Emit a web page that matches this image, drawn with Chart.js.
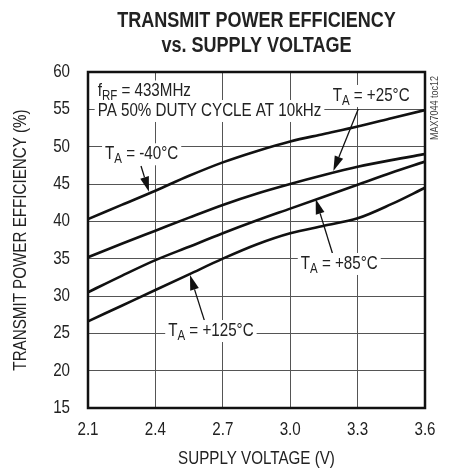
<!DOCTYPE html>
<html><head><meta charset="utf-8">
<script src="https://cdn.jsdelivr.net/npm/chart.js@4.4.1/dist/chart.umd.min.js"></script>
<style>html,body{margin:0;padding:0;background:#fff;}#wrap{width:450px;height:473px;position:relative;}</style>
</head><body><div id="wrap"><canvas id="c" width="450" height="473"></canvas></div>
<script>
// ---- data ----
const voltage = [2.1, 2.25, 2.4, 2.55, 2.7, 2.85, 3.0, 3.15, 3.3, 3.45, 3.6];
const effM40  = [40.3, 42.2, 44.1, 46.1, 47.9, 49.4, 50.7, 51.7, 52.7, 53.8, 54.9];
const effP25  = [35.2, 37.0, 38.75, 40.5, 42.2, 43.7, 45.0, 46.2, 47.3, 48.2, 49.0];
const effP85  = [30.5, 32.7, 34.8, 36.6, 38.4, 40.1, 41.7, 43.3, 44.9, 46.5, 48.0];
const effP125 = [26.6, 28.7, 30.8, 32.9, 35.0, 36.9, 38.4, 39.4, 40.4, 42.3, 44.5];
const xTicks = [2.1, 2.4, 2.7, 3.0, 3.3, 3.6];
const yTicks = [15, 20, 25, 30, 35, 40, 45, 50, 55, 60];
const titleLines = ['TRANSMIT POWER EFFICIENCY', 'vs. SUPPLY VOLTAGE'];
const xTitle = 'SUPPLY VOLTAGE (V)';
const yTitle = 'TRANSMIT POWER EFFICIENCY (%)';
const sideNote = 'MAX7044 toc12';
// annotation labels: [text, isSubscript] parts, anchored (left, baseline) in data units
const notes = [
  {parts: [['f', 0], ['RF', 1], [' = 433MHz', 0]], x: 2.143, y: 56.72},
  {parts: [['PA 50% DUTY CYCLE AT 10kHz', 0]], x: 2.143, y: 54.11},
  {parts: [['T', 0], ['A', 1], [' = -40°C', 0]], x: 2.176, y: 48.31},
  {parts: [['T', 0], ['A', 1], [' = +25°C', 0]], x: 3.189, y: 56.12},
  {parts: [['T', 0], ['A', 1], [' = +85°C', 0]], x: 3.047, y: 33.62},
  {parts: [['T', 0], ['A', 1], [' = +125°C', 0]], x: 2.457, y: 24.64}
];
// arrows: tail -> tip in data units
const arrows = [
  {x1: 2.336, y1: 47.41, x2: 2.3715, y2: 43.97},
  {x1: 3.303, y1: 55.04, x2: 3.192, y2: 46.74},
  {x1: 3.189, y1: 35.63, x2: 3.1135, y2: 42.99},
  {x1: 2.621, y1: 26.43, x2: 2.554, y2: 32.81}
];

const FONT = "'Liberation Sans', Arial, sans-serif";
const TXT = '#222';
const LINE = '#111';

// emulate the narrow (Arial Narrow-like) typeface of the reference by condensing text horizontally
const canvas = document.getElementById('c');
const g = canvas.getContext('2d');
const K = 0.82;
const origFill = g.fillText.bind(g), origMeasure = g.measureText.bind(g);
g.fillText = function (t, x, y, mw) {
  this.save(); this.translate(x, y); this.scale(K, 1);
  if (mw !== undefined) origFill(t, 0, 0, mw / K); else origFill(t, 0, 0);
  this.restore();
};
g.measureText = function (t) {
  const m = origMeasure(t);
  return {width: m.width * K,
    actualBoundingBoxAscent: m.actualBoundingBoxAscent, actualBoundingBoxDescent: m.actualBoundingBoxDescent,
    actualBoundingBoxLeft: m.actualBoundingBoxLeft * K, actualBoundingBoxRight: m.actualBoundingBoxRight * K,
    fontBoundingBoxAscent: m.fontBoundingBoxAscent, fontBoundingBoxDescent: m.fontBoundingBoxDescent};
};

const mk = (label, data) => ({
  label, data: voltage.map((v, i) => ({x: v, y: data[i]})),
  borderColor: LINE, borderWidth: 2.6, pointRadius: 0, fill: false,
  cubicInterpolationMode: 'monotone'
});

const deco = {
  id: 'deco',
  afterDatasetsDraw(chart) {
    const ctx = chart.ctx, xs = chart.scales.x, ys = chart.scales.y, a = chart.chartArea;
    ctx.save();
    // frame
    ctx.strokeStyle = LINE; ctx.lineWidth = 2.5;
    ctx.strokeRect(a.left, a.top, a.right - a.left, a.bottom - a.top);
    // arrows
    arrows.forEach(ar => {
      const x1 = xs.getPixelForValue(ar.x1), y1 = ys.getPixelForValue(ar.y1);
      const x2 = xs.getPixelForValue(ar.x2), y2 = ys.getPixelForValue(ar.y2);
      const ang = Math.atan2(y2 - y1, x2 - x1), L = 15, W = 4.5;
      const bx = x2 - L * Math.cos(ang), by = y2 - L * Math.sin(ang);
      ctx.strokeStyle = LINE; ctx.lineWidth = 1.3;
      ctx.beginPath(); ctx.moveTo(x1, y1); ctx.lineTo(bx, by); ctx.stroke();
      ctx.fillStyle = LINE;
      ctx.beginPath(); ctx.moveTo(x2, y2);
      ctx.lineTo(bx + W * Math.sin(ang), by - W * Math.cos(ang));
      ctx.lineTo(bx - W * Math.sin(ang), by + W * Math.cos(ang));
      ctx.closePath(); ctx.fill();
    });
    // labels
    const main = '18.5px ' + FONT, sub = '14px ' + FONT;
    notes.forEach(n => {
      const x0 = xs.getPixelForValue(n.x), base = ys.getPixelForValue(n.y);
      let w = 0;
      n.parts.forEach(p => { ctx.font = p[1] ? sub : main; w += ctx.measureText(p[0]).width; });
      ctx.fillStyle = '#fff';
      ctx.fillRect(x0 - 3, base - 16, w + 6, 22);
      let x = x0;
      ctx.fillStyle = TXT; ctx.textBaseline = 'alphabetic'; ctx.textAlign = 'left';
      n.parts.forEach(p => {
        ctx.font = p[1] ? sub : main;
        ctx.fillText(p[0], x, p[1] ? base + 4 : base);
        x += ctx.measureText(p[0]).width;
      });
    });
    // titles
    ctx.fillStyle = TXT; ctx.textAlign = 'center'; ctx.textBaseline = 'alphabetic';
    ctx.font = 'bold 22px ' + FONT;
    const cx = (a.left + a.right) / 2;
    ctx.fillText(titleLines[0], cx, 26.7);
    ctx.fillText(titleLines[1], cx, 51.7);
    // side note
    ctx.save();
    ctx.translate(a.right + 10, a.top + 36);
    ctx.rotate(-Math.PI / 2);
    ctx.font = '11px ' + FONT; ctx.fillStyle = '#444'; ctx.textBaseline = 'middle'; ctx.textAlign = 'center';
    ctx.fillText(sideNote, 0, 0);
    ctx.restore();
    ctx.restore();
  }
};

new Chart(canvas, {
  type: 'line',
  data: {datasets: [mk('TA = -40°C', effM40), mk('TA = +25°C', effP25), mk('TA = +85°C', effP85), mk('TA = +125°C', effP125)]},
  options: {
    responsive: false, animation: false, devicePixelRatio: 1,
    layout: {padding: {top: 72, right: 25, left: 0, bottom: 0}},
    plugins: {legend: {display: false}, tooltip: {enabled: false}, title: {display: false}},
    scales: {
      x: {
        type: 'linear', min: 2.1, max: 3.6,
        afterBuildTicks: s => { s.ticks = xTicks.map(v => ({value: v})); },
        afterFit: s => { s.height = 65; },
        ticks: {padding: 11, color: TXT, font: {family: FONT, size: 18.5}, callback: v => Number(v).toFixed(1), maxRotation: 0},
        grid: {drawTicks: false, color: '#555', lineWidth: 1},
        border: {display: false},
        title: {display: true, text: xTitle, color: TXT, font: {family: FONT, size: 18.5}, padding: {top: 0, bottom: 3}}
      },
      y: {
        min: 15, max: 60,
        afterBuildTicks: s => { s.ticks = yTicks.map(v => ({value: v})); },
        afterFit: s => { s.width = 88; },
        ticks: {padding: 18, color: TXT, font: {family: FONT, size: 18.5}},
        grid: {drawTicks: false, color: '#555', lineWidth: 1},
        border: {display: false},
        title: {display: true, text: yTitle, color: TXT, font: {family: FONT, size: 18.5}, padding: {top: 10, bottom: 0}}
      }
    }
  },
  plugins: [deco]
});
</script></body></html>
